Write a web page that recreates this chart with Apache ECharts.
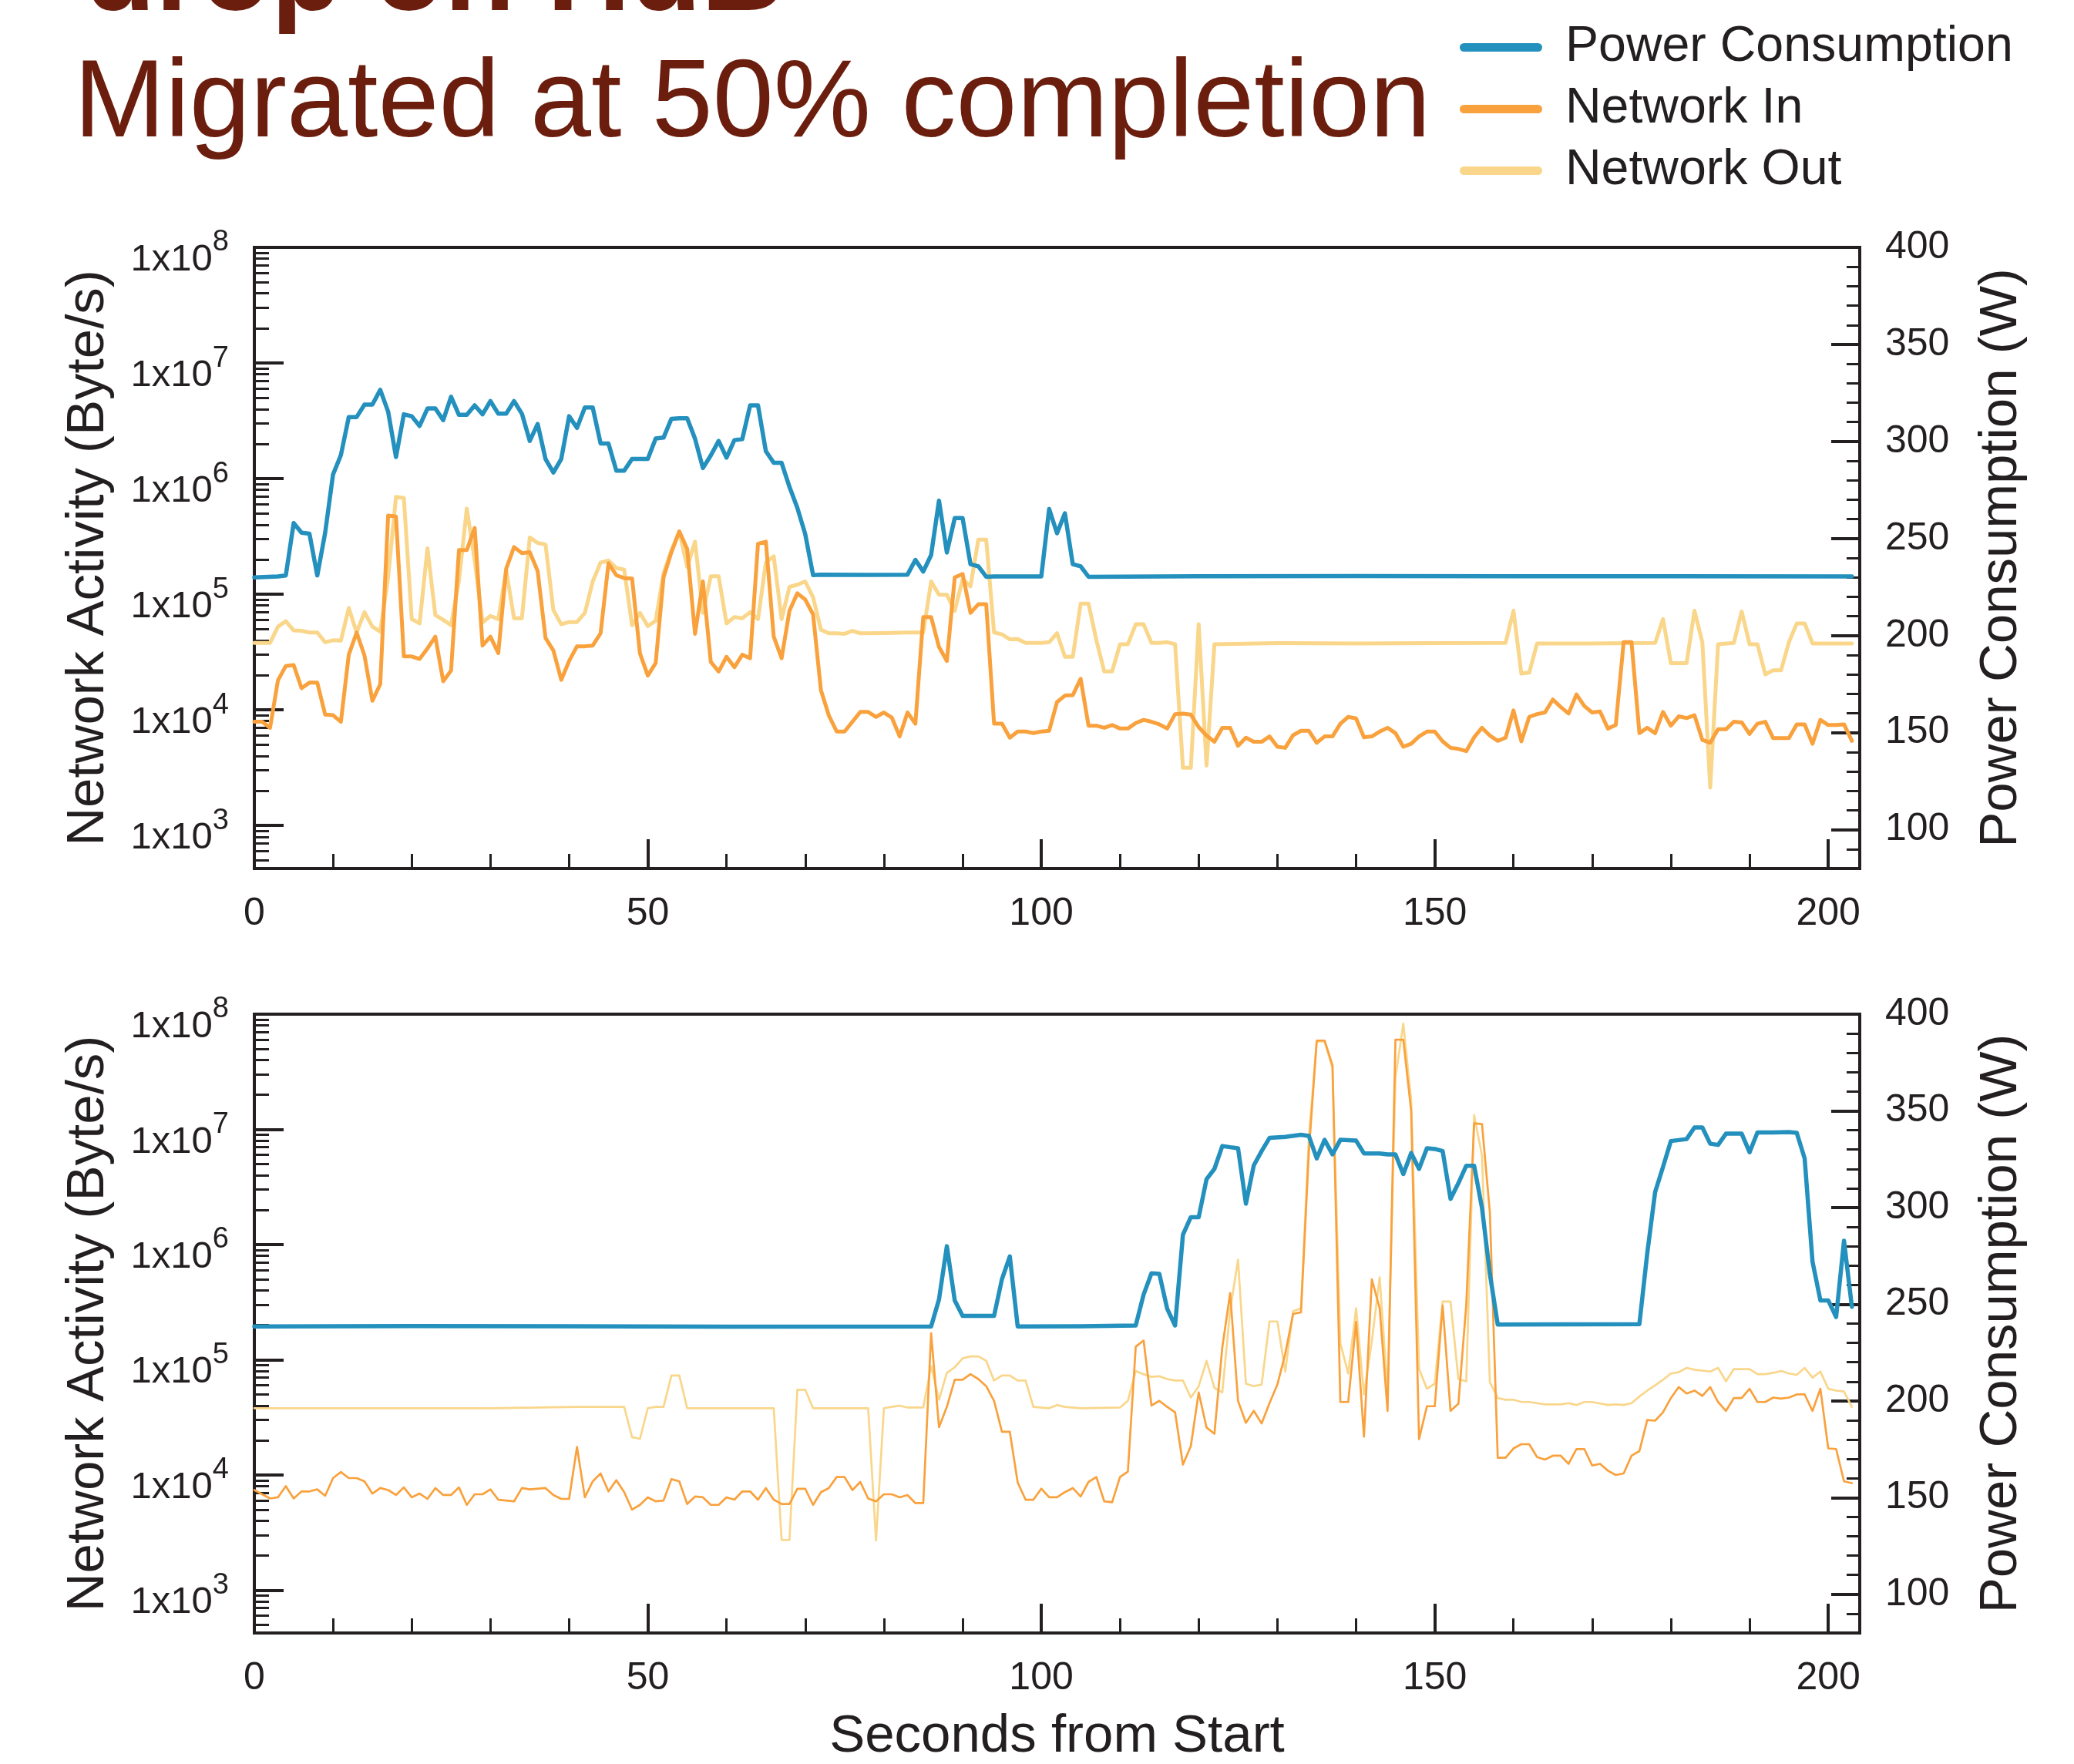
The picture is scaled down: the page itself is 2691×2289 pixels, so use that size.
<!DOCTYPE html>
<html>
<head>
<meta charset="utf-8">
<title>Power consumption and network activity</title>
<script src="https://cdn.jsdelivr.net/npm/echarts@6.0.0/dist/echarts.min.js"></script>
<style>
  html, body { margin: 0; padding: 0; background: #fff; }
  #chart { width: 2691px; height: 2289px; }
</style>
</head>
<body>
<div id="chart"></div>
<script>
var INK = '#231f20';
var FONT = '"Liberation Sans", Arial, Helvetica, sans-serif';
var BLUE = '#2390bd', ORANGE = '#f9a13c', YELLOW = '#f9d68a';

// axis ticks and labels
var secTicks = [0, 50, 100, 150, 200];
var netTicks = [1e3, 1e4, 1e5, 1e6, 1e7, 1e8];
var netExp = ['3', '4', '5', '6', '7', '8'];
var powerTicks = [100, 150, 200, 250, 300, 350, 400];

// minor tick positions (2..9 per decade on the log side, every 10 W on the power side)
var netMinor = [];
for (var d = 100; d < 1e8; d *= 10) {
  for (var k = 2; k <= 9; k++) { if (k * d > 425) netMinor.push(k * d); }
}
var powerMinor = [];
for (var w = 90; w < 400; w += 10) { if (w % 50 !== 0) powerMinor.push(w); }

// ---- top panel: [seconds, value] ----
var topPower = [[0,230],[3,230.5],[4,231],[5,258],[6,253],[7,252.5],[8,231],[9,253],[10,283],[11,293],[12,312.6],[13,312.6],[14,319],[15,319],[16,326.6],[17,315.4],[18,292],[19,314],[20,313],[21,308],[22,317],[23,317],[24,311],[25,323],[26,313.7],[27,313.7],[28,318.6],[29,314],[30,320.8],[31,314.3],[32,314.3],[33,320.8],[34,314.3],[35,300.3],[36,309],[37,291],[38,284],[39,291],[40,313],[41,307],[42,317.5],[43,317.5],[44,299],[45,299],[46,285],[47,285],[48,291],[49,291],[50,291],[51,301.5],[52,302],[53,311.7],[54,312],[55,312],[56,301.4],[57,286.3],[58,292.8],[59,300.3],[60,291.7],[61,300.7],[62,301.2],[63,318.6],[64,318.6],[65,295],[66,289],[67,289],[68,276.6],[69,265.8],[70,252.3],[71,231.2],[72,231.4],[78,231.3],[83,231.4],[84,239],[85,233],[86,241.5],[87,269.5],[88,242.8],[89,260.5],[90,260.5],[91,236.8],[92,235.7],[93,230.3],[94,230.5],[100,230.5],[101,265.2],[102,252.7],[103,263],[104,236.8],[105,235.7],[106,230.3],[120,230.6],[140,230.7],[160,230.6],[180,230.6],[203,230.5]];

var topIn = [[0,7.9e3],[1,7.9e3],[2,7.0e3],[3,1.8e4],[4,2.4e4],[5,2.44e4],[6,1.54e4],[7,1.72e4],[8,1.72e4],[9,9.1e3],[10,9.0e3],[11,7.9e3],[12,3.0e4],[13,4.67e4],[14,2.95e4],[15,1.2e4],[16,1.67e4],[17,4.8e5],[18,4.7e5],[19,2.9e4],[20,2.9e4],[21,2.76e4],[22,3.4e4],[23,4.3e4],[24,1.77e4],[25,2.19e4],[26,2.41e5],[27,2.41e5],[28,3.75e5],[29,3.6e4],[30,4.3e4],[31,3.1e4],[32,1.66e5],[33,2.56e5],[34,2.27e5],[35,2.31e5],[36,1.59e5],[37,4.19e4],[38,3.26e4],[39,1.82e4],[40,2.65e4],[41,3.55e4],[42,3.55e4],[43,3.6e4],[44,4.6e4],[45,1.85e5],[46,1.46e5],[47,1.38e5],[48,1.37e5],[49,3.08e4],[50,1.98e4],[51,2.54e4],[52,1.4e5],[53,2.31e5],[54,3.5e5],[55,2.47e5],[56,4.55e4],[57,1.29e5],[58,2.6e4],[59,2.15e4],[60,2.88e4],[61,2.34e4],[62,3.0e4],[63,2.8e4],[64,2.73e5],[65,2.85e5],[66,4.3e4],[67,2.8e4],[68,7.2e4],[69,1.02e5],[70,9.0e4],[71,6.7e4],[72,1.48e4],[73,8.96e3],[74,6.5e3],[75,6.5e3],[76,7.9e3],[77,9.6e3],[78,9.6e3],[79,8.7e3],[80,9.5e3],[81,8.6e3],[82,5.9e3],[83,9.5e3],[84,7.6e3],[85,6.35e4],[86,6.35e4],[87,3.5e4],[88,2.65e4],[89,1.4e5],[90,1.5e5],[91,6.9e4],[92,8.2e4],[93,8.2e4],[94,7.6e3],[95,7.6e3],[96,5.75e3],[97,6.5e3],[98,6.5e3],[99,6.3e3],[100,6.5e3],[101,6.6e3],[102,1.17e4],[103,1.33e4],[104,1.34e4],[105,1.86e4],[106,7.3e3],[107,7.3e3],[108,7.0e3],[109,7.4e3],[110,6.9e3],[111,6.9e3],[112,7.7e3],[113,8.2e3],[114,7.9e3],[115,7.5e3],[116,6.9e3],[117,9.2e3],[118,9.3e3],[119,9.1e3],[120,7.1e3],[121,6.0e3],[122,5.3e3],[123,7.0e3],[124,7.0e3],[125,4.9e3],[126,5.75e3],[127,5.3e3],[128,5.3e3],[129,5.9e3],[130,4.8e3],[131,4.7e3],[132,6.05e3],[133,6.6e3],[134,6.6e3],[135,5.2e3],[136,5.9e3],[137,5.9e3],[138,7.6e3],[139,8.7e3],[140,8.45e3],[141,5.8e3],[142,5.9e3],[143,6.5e3],[144,7.0e3],[145,6.3e3],[146,4.8e3],[147,5.1e3],[148,5.9e3],[149,6.5e3],[150,6.5e3],[151,5.35e3],[152,4.7e3],[153,4.6e3],[154,4.4e3],[155,5.8e3],[156,7.0e3],[157,6.0e3],[158,5.4e3],[159,5.75e3],[160,9.9e3],[161,5.35e3],[162,8.7e3],[163,9.2e3],[164,9.5e3],[165,1.23e4],[166,1.06e4],[167,9.3e3],[168,1.36e4],[169,1.08e4],[170,9.5e3],[171,9.7e3],[172,6.9e3],[173,7.4e3],[174,3.86e4],[175,3.86e4],[176,6.3e3],[177,7.0e3],[178,6.3e3],[179,9.6e3],[180,7.3e3],[181,8.8e3],[182,8.5e3],[183,9.0e3],[184,5.5e3],[185,5.2e3],[186,6.8e3],[187,6.8e3],[188,7.9e3],[189,7.8e3],[190,6.2e3],[191,7.6e3],[192,7.9e3],[193,5.7e3],[194,5.7e3],[195,5.7e3],[196,7.5e3],[197,7.5e3],[198,5.1e3],[199,8.2e3],[200,7.4e3],[201,7.4e3],[202,7.5e3],[203,5.4e3]];

var topOut = [[0,3.8e4],[1,3.8e4],[2,3.8e4],[3,5.25e4],[4,5.85e4],[5,4.87e4],[6,4.83e4],[7,4.67e4],[8,4.67e4],[9,3.85e4],[10,4.0e4],[11,3.98e4],[12,7.6e4],[13,4.67e4],[14,7.0e4],[15,5.25e4],[16,4.75e4],[17,1.4e5],[18,6.95e5],[19,6.8e5],[20,6.1e4],[21,5.6e4],[22,2.5e5],[23,6.6e4],[24,6.0e4],[25,5.4e4],[26,1.31e5],[27,5.5e5],[28,1.96e5],[29,5.7e4],[30,6.5e4],[31,6.1e4],[32,1.63e5],[33,6.2e4],[34,6.2e4],[35,3.1e5],[36,2.78e5],[37,2.69e5],[38,7.3e4],[39,5.5e4],[40,5.75e4],[41,5.75e4],[42,6.9e4],[43,1.29e5],[44,1.88e5],[45,1.96e5],[46,1.69e5],[47,1.63e5],[48,5.4e4],[49,6.9e4],[50,5.3e4],[51,5.9e4],[52,1.52e5],[53,2.4e5],[54,3.5e5],[55,1.73e5],[56,2.85e5],[57,6.9e4],[58,1.43e5],[59,1.43e5],[60,5.6e4],[61,6.35e4],[62,6.2e4],[63,7.0e4],[64,6.1e4],[65,1.88e5],[66,2.13e5],[67,6.1e4],[68,1.16e5],[69,1.21e5],[70,1.29e5],[71,9.4e4],[72,4.94e4],[73,4.6e4],[74,4.6e4],[75,4.55e4],[76,4.83e4],[77,4.6e4],[80,4.62e4],[83,4.67e4],[85,4.67e4],[86,1.29e5],[87,9.9e4],[88,9.9e4],[89,7.2e4],[90,1.35e5],[91,1.17e5],[92,2.97e5],[93,2.97e5],[94,4.67e4],[95,4.5e4],[96,4.08e4],[97,4.1e4],[98,3.8e4],[99,3.8e4],[100,3.8e4],[101,3.85e4],[102,4.6e4],[103,2.88e4],[104,2.88e4],[105,8.3e4],[106,8.3e4],[107,4.0e4],[108,2.15e4],[109,2.15e4],[110,3.7e4],[111,3.7e4],[112,5.5e4],[113,5.5e4],[114,3.8e4],[115,3.8e4],[116,3.85e4],[117,3.7e4],[118,3.16e3],[119,3.16e3],[120,5.5e4],[121,3.3e3],[122,3.7e4],[130,3.78e4],[140,3.76e4],[150,3.78e4],[159,3.8e4],[160,7.2e4],[161,2.06e4],[162,2.1e4],[163,3.76e4],[170,3.76e4],[178,3.8e4],[179,6.1e4],[180,2.54e4],[182,2.54e4],[183,7.2e4],[184,3.85e4],[185,2.13e3],[186,3.7e4],[188,3.8e4],[189,7.1e4],[190,3.7e4],[191,3.7e4],[192,2.03e4],[193,2.2e4],[194,2.2e4],[195,3.85e4],[196,5.6e4],[197,5.6e4],[198,3.76e4],[203,3.76e4]];

// ---- bottom panel: [seconds, value] ----
var botPower = [[0,238.5],[20,238.7],[40,238.6],[60,238.4],[86,238.5],[87,252.5],[88,280],[89,252],[90,244],[91,244],[94,244],[95,263],[96,274.7],[97,238.5],[105,238.6],[112,239],[113,255],[114,266],[115,265.7],[116,247.6],[117,239],[118,286],[119,295],[120,295],[121,314.7],[122,320],[123,331.8],[124,331.2],[125,330.7],[126,302],[127,321.8],[128,329.2],[129,336],[131,336.5],[133,337.6],[134,337],[135,325.4],[136,335],[137,327.5],[138,335],[140,334.6],[141,328],[143,328],[144,327.5],[145,327.5],[146,317.3],[147,328.2],[148,320],[149,330.7],[150,330.3],[151,329.2],[152,304.5],[153,312.6],[154,321.6],[155,321.6],[156,299.8],[157,265.7],[158,239.5],[176,239.7],[177,276.4],[178,308],[179,321],[180,334.4],[182,335.4],[183,341.4],[184,341.4],[185,333],[186,332.4],[187,338.2],[189,338.2],[190,328.6],[191,338.8],[193,338.8],[195,339],[196,338.6],[197,325.4],[198,272],[199,252],[200,252],[201,243.4],[202,282.8],[203,248.7]];

var botIn = [[0,7.4e3],[2,6.25e3],[3,6.4e3],[4,8.0e3],[5,6.25e3],[6,7.2e3],[7,7.2e3],[8,7.5e3],[9,6.6e3],[10,9.4e3],[11,1.06e4],[12,9.4e3],[13,9.4e3],[14,8.8e3],[15,6.9e3],[16,7.7e3],[17,7.4e3],[18,6.7e3],[19,7.8e3],[20,6.4e3],[21,6.9e3],[22,6.2e3],[23,7.7e3],[24,6.7e3],[25,6.7e3],[26,7.8e3],[27,5.5e3],[28,6.8e3],[29,6.8e3],[30,7.5e3],[31,6.1e3],[33,5.9e3],[34,7.7e3],[35,7.5e3],[37,7.7e3],[38,6.7e3],[39,6.2e3],[40,6.2e3],[41,1.75e4],[42,6.4e3],[43,8.8e3],[44,1.03e4],[45,7.2e3],[46,9.0e3],[47,7.1e3],[48,5.0e3],[49,5.5e3],[50,6.4e3],[51,5.9e3],[52,6.0e3],[53,9.2e3],[54,8.8e3],[55,5.6e3],[56,6.5e3],[57,6.4e3],[58,5.5e3],[59,5.5e3],[60,6.4e3],[61,6.1e3],[62,7.2e3],[63,7.2e3],[64,6.1e3],[65,7.7e3],[66,6.1e3],[67,5.6e3],[68,5.6e3],[69,7.6e3],[70,7.6e3],[71,5.5e3],[72,7.1e3],[73,7.7e3],[74,9.6e3],[75,9.6e3],[76,7.4e3],[77,8.7e3],[78,6.25e3],[79,5.9e3],[80,6.8e3],[81,6.8e3],[82,6.4e3],[83,6.7e3],[84,5.7e3],[85,5.7e3],[86,1.7e5],[87,2.6e4],[88,3.9e4],[89,6.7e4],[90,6.7e4],[91,7.5e4],[92,6.8e4],[93,5.9e4],[94,4.4e4],[95,2.37e4],[96,2.37e4],[97,8.6e3],[98,6.1e3],[99,6.1e3],[100,7.6e3],[101,6.4e3],[102,6.4e3],[103,7.1e3],[104,7.7e3],[105,6.5e3],[106,8.7e3],[107,9.6e3],[108,5.9e3],[109,5.8e3],[110,9.6e3],[111,1.07e4],[112,1.3e5],[113,1.47e5],[114,4.0e4],[115,4.4e4],[116,3.9e4],[117,3.5e4],[118,1.23e4],[119,1.78e4],[120,5.2e4],[121,2.58e4],[122,2.28e4],[123,1.28e5],[124,3.8e5],[125,4.4e4],[126,2.84e4],[127,3.6e4],[128,2.8e4],[129,4.2e4],[130,6.1e4],[131,1.13e5],[132,2.5e5],[133,2.58e5],[134,6.4e6],[135,5.9e7],[136,5.9e7],[137,3.6e7],[138,4.3e4],[139,4.3e4],[140,2.13e5],[141,2.15e4],[142,5.0e5],[143,2.8e5],[144,3.6e4],[145,6.0e7],[146,6.0e7],[147,1.45e7],[148,2.05e4],[149,3.95e4],[150,3.95e4],[151,2.96e5],[152,3.6e4],[153,4.15e4],[154,3.0e5],[155,1.13e7],[156,1.11e7],[157,1.9e6],[158,1.41e4],[159,1.41e4],[160,1.7e4],[161,1.85e4],[162,1.85e4],[163,1.43e4],[164,1.36e4],[165,1.47e4],[166,1.47e4],[167,1.25e4],[168,1.68e4],[169,1.68e4],[170,1.21e4],[171,1.25e4],[172,1.09e4],[173,1.0e4],[174,1.03e4],[175,1.47e4],[176,1.61e4],[177,3.0e4],[178,2.96e4],[179,3.5e4],[180,4.65e4],[181,5.8e4],[182,5.1e4],[183,5.4e4],[184,4.85e4],[185,5.8e4],[186,4.3e4],[187,3.6e4],[188,4.65e4],[189,4.65e4],[190,5.6e4],[191,4.3e4],[192,4.3e4],[193,4.7e4],[194,4.6e4],[195,4.7e4],[196,5.0e4],[197,5.0e4],[198,3.6e4],[199,5.6e4],[200,1.7e4],[201,1.68e4],[202,8.8e3],[203,8.5e3]];

var botOut = [[0,3.8e4],[15,3.8e4],[30,3.8e4],[41,3.9e4],[47,3.9e4],[48,2.13e4],[49,2.06e4],[50,3.8e4],[51,3.9e4],[52,3.9e4],[53,7.3e4],[54,7.3e4],[55,3.8e4],[66,3.8e4],[67,2.73e3],[68,2.73e3],[69,5.5e4],[70,5.5e4],[71,3.8e4],[78,3.8e4],[79,2.7e3],[80,3.8e4],[82,4.0e4],[83,3.85e4],[85,3.85e4],[86,8.8e4],[87,4.5e4],[88,7.7e4],[89,8.6e4],[90,1.03e5],[91,1.07e5],[92,1.07e5],[93,9.8e4],[94,6.6e4],[95,7.3e4],[96,7.3e4],[97,6.6e4],[98,6.6e4],[99,3.9e4],[101,3.8e4],[102,4.05e4],[103,3.9e4],[105,3.8e4],[110,3.85e4],[111,4.4e4],[112,8.0e4],[113,7.5e4],[114,7.1e4],[115,7.2e4],[116,6.8e4],[117,6.6e4],[118,6.6e4],[119,4.7e4],[120,5.9e4],[121,9.8e4],[122,5.7e4],[123,5.2e4],[124,2.7e5],[125,7.4e5],[126,6.2e4],[127,5.9e4],[128,6.1e4],[129,2.15e5],[130,2.15e5],[131,7.9e4],[132,2.64e5],[133,2.8e5],[134,8.5e6],[135,5.8e7],[136,5.8e7],[137,3.4e7],[138,1.39e5],[139,7.6e4],[140,2.8e5],[141,5.0e4],[142,1.45e5],[143,5.2e5],[144,5.2e4],[145,2.8e7],[146,8.3e7],[147,1.78e7],[148,8.3e4],[149,5.6e4],[150,6.2e4],[151,3.2e5],[152,3.2e5],[153,6.8e4],[154,6.5e4],[155,1.33e7],[156,5.9e6],[157,6.4e4],[158,4.65e4],[159,4.5e4],[160,4.5e4],[161,4.3e4],[162,4.3e4],[164,4.1e4],[166,4.1e4],[167,4.2e4],[168,4.05e4],[169,4.3e4],[170,4.3e4],[172,4.05e4],[173,4.1e4],[174,4.05e4],[175,4.2e4],[176,4.8e4],[177,5.4e4],[178,6.0e4],[179,6.7e4],[180,7.6e4],[181,7.8e4],[182,8.5e4],[183,8.2e4],[185,7.9e4],[186,8.5e4],[187,6.5e4],[188,8.3e4],[190,8.3e4],[191,7.5e4],[192,7.5e4],[193,7.7e4],[194,8.0e4],[195,7.6e4],[196,7.4e4],[197,8.5e4],[198,7.0e4],[199,7.9e4],[200,5.6e4],[201,5.4e4],[202,5.3e4],[203,3.9e4]];

var panels = [
  { top: 321, height: 806, power: topPower, netIn: topIn, netOut: topOut, netWidth: 5, powerWidth: 5.5, xName: '' },
  { top: 1316, height: 808, power: botPower, netIn: botIn, netOut: botOut, netWidth: 2.7, powerWidth: 5.5, xName: 'Seconds from Start' }
];

var nameStyle = { fontSize: 69, color: INK, fontFamily: FONT };
var labelStyle = { fontSize: 50, color: INK, fontFamily: FONT };

function expLabel(v) {
  for (var i = 0; i < netTicks.length; i++) {
    if (Math.abs(netTicks[i] - v) / netTicks[i] < 1e-6) return '{m|1x10}{s|' + netExp[i] + '}';
  }
  return '';
}

var grids = [], xAxes = [], yAxes = [], series = [];
panels.forEach(function (p, g) {
  grids.push({ left: 330, top: p.top, width: 2083, height: p.height, show: true,
    borderColor: INK, borderWidth: 4, backgroundColor: 'transparent', containLabel: false });

  xAxes.push({
    type: 'value', gridIndex: g, min: 0, max: 204, interval: 50,
    name: p.xName, nameLocation: 'middle', nameGap: 100, nameTextStyle: nameStyle,
    axisLine: { onZero: false, lineStyle: { color: INK, width: 4 } },
    axisTick: { inside: true, length: 38, customValues: secTicks, lineStyle: { color: INK, width: 4 } },
    minorTick: { show: true, splitNumber: 5, length: 19, lineStyle: { color: INK, width: 3 } },
    axisLabel: Object.assign({ customValues: secTicks, margin: 34 }, labelStyle),
    splitLine: { show: false }, minorSplitLine: { show: false }
  });

  // left: network activity (log)
  yAxes.push({
    type: 'log', logBase: 10, gridIndex: g, position: 'left', min: 425, max: 1e8,
    name: 'Network Activity (Byte/s)', nameLocation: 'middle', nameGap: 181, nameTextStyle: nameStyle,
    axisLine: { onZero: false, lineStyle: { color: INK, width: 4 } },
    axisTick: { inside: true, length: 38, customValues: netTicks, lineStyle: { color: INK, width: 4 } },
    axisLabel: {
      customValues: netTicks, margin: 33, formatter: expLabel, padding: [16, 0, 0, 0],
      rich: {
        m: { fontSize: 49, lineHeight: 66, height: 49, verticalAlign: 'bottom', color: INK, fontFamily: FONT },
        s: { fontSize: 38, lineHeight: 38, height: 38, verticalAlign: 'top', color: INK, fontFamily: FONT }
      }
    },
    splitLine: { show: false }
  });
  // right: power (W)
  yAxes.push({
    type: 'value', gridIndex: g, position: 'right', min: 80, max: 400,
    name: 'Power Consumption (W)', nameLocation: 'middle', nameGap: 149, nameTextStyle: nameStyle,
    axisLine: { onZero: false, lineStyle: { color: INK, width: 4 } },
    axisTick: { inside: true, length: 37, customValues: powerTicks, lineStyle: { color: INK, width: 4 } },
    axisLabel: Object.assign({ customValues: powerTicks, margin: 33 }, labelStyle),
    splitLine: { show: false }
  });
  // minor ticks, log side
  yAxes.push({
    type: 'log', logBase: 10, gridIndex: g, position: 'left', min: 425, max: 1e8,
    axisLine: { show: false, onZero: false }, axisLabel: { show: false }, splitLine: { show: false },
    axisTick: { inside: true, length: 19, customValues: netMinor, lineStyle: { color: INK, width: 3 } }
  });
  // minor ticks, power side
  yAxes.push({
    type: 'value', gridIndex: g, position: 'right', min: 80, max: 400,
    axisLine: { show: false, onZero: false }, axisLabel: { show: false }, splitLine: { show: false },
    axisTick: { inside: true, length: 17, customValues: powerMinor, lineStyle: { color: INK, width: 3 } }
  });

  var base = g * 4;
  series.push({ name: 'Network Out', type: 'line', xAxisIndex: g, yAxisIndex: base, data: p.netOut,
    showSymbol: false, symbol: 'none', color: YELLOW,
    lineStyle: { color: YELLOW, width: p.netWidth, join: 'round', cap: 'round' } });
  series.push({ name: 'Network In', type: 'line', xAxisIndex: g, yAxisIndex: base, data: p.netIn,
    showSymbol: false, symbol: 'none', color: ORANGE,
    lineStyle: { color: ORANGE, width: p.netWidth, join: 'round', cap: 'round' } });
  series.push({ name: 'Power Consumption', type: 'line', xAxisIndex: g, yAxisIndex: base + 1, data: p.power,
    showSymbol: false, symbol: 'none', color: BLUE,
    lineStyle: { color: BLUE, width: p.powerWidth, join: 'round', cap: 'round' } });
});

var chart = echarts.init(document.getElementById('chart'), null, { renderer: 'canvas' });
chart.setOption({
  backgroundColor: '#ffffff',
  animation: false,
  graphic: [
    { type: 'text', x: 110, y: -28, silent: true,
      style: { text: 'drop on HdB', fontSize: 150, fontWeight: 'bold', fontFamily: FONT, fill: '#6b1e0e', verticalAlign: 'middle' } },
    { type: 'text', x: 96, y: 138, silent: true,
      style: { text: 'Migrated at 50% completion', fontSize: 142, fontFamily: FONT, fill: '#6b1e0e', verticalAlign: 'middle' } }
  ],
  legend: {
    data: ['Power Consumption', 'Network In', 'Network Out'],
    orient: 'vertical', left: 1889, top: 24,
    itemWidth: 107, itemHeight: 11, itemGap: 15,
    icon: 'path://M5.5,0H101.5A5.5,5.5,0,0,1,101.5,11H5.5A5.5,5.5,0,0,1,5.5,0Z',
    selectedMode: false,
    textStyle: { fontSize: 64.5, lineHeight: 64.5, color: INK, fontFamily: FONT, padding: [0, 0, 0, 25] }
  },
  grid: grids,
  xAxis: xAxes,
  yAxis: yAxes,
  series: series
});
</script>
</body>
</html>
